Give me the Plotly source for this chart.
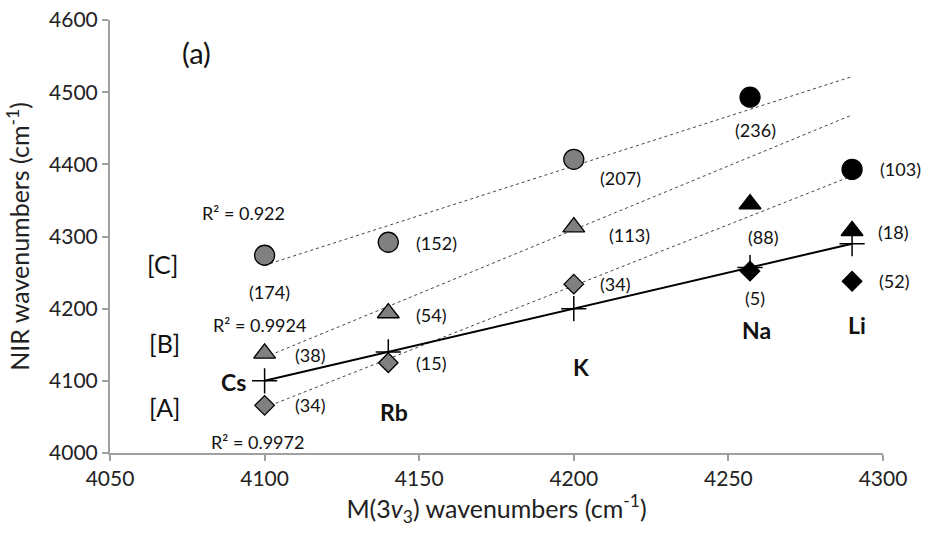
import numpy as np
import plotly.graph_objects as go

# ---------------- data ----------------
metals = ["Cs", "Rb", "K", "Na", "Li"]
m3v3 = [4100, 4140, 4200, 4257, 4290]            # x: M(3v3) wavenumbers
nir_A = [4066, 4125, 4234, 4252, 4238]           # [A] diamonds
nir_B = [4138, 4194, 4313, 4345, 4308]           # [B] triangles
nir_C = [4274, 4292, 4407, 4493, 4393]           # [C] circles
dev_A = [34, 15, 34, 5, 52]
dev_B = [38, 54, 113, 88, 18]
dev_C = [174, 152, 207, 236, 103]
r2_A = "R² = 0.9972"
r2_B = "R² = 0.9924"
r2_C = "R² = 0.922"
n_fit = 3  # trendlines fitted on Cs, Rb, K (gray points)

# ---------------- style ----------------
FONT = "Lato, Carlito, Calibri, sans-serif"
GRAY = "#808080"
pt_colors = [GRAY, GRAY, GRAY, "black", "black"]
AX = "#a0a0a0"

fig = go.Figure()

# trend lines
for ys in (nir_A, nir_B, nir_C):
    k, b = np.polyfit(m3v3[:n_fit], ys[:n_fit], 1)
    xs = np.array([m3v3[0], m3v3[-1]])
    fig.add_trace(go.Scatter(x=xs, y=k * xs + b, mode="lines",
                             line=dict(color="#444444", width=1, dash="dot"),
                             hoverinfo="skip", showlegend=False))

# y = x reference (crosses)
fig.add_trace(go.Scatter(x=m3v3, y=m3v3, mode="lines+markers",
                         line=dict(color="black", width=2),
                         marker=dict(symbol="cross-thin", size=18,
                                     line=dict(color="black", width=1.5)),
                         showlegend=False))

# series markers
fig.add_trace(go.Scatter(x=m3v3, y=nir_A, mode="markers", showlegend=False,
                         marker=dict(symbol="diamond", size=15, color=pt_colors,
                                     line=dict(color="black", width=1.3))))
fig.add_trace(go.Scatter(x=m3v3, y=nir_B, mode="markers", showlegend=False,
                         marker=dict(symbol="triangle-up", size=19, color=pt_colors,
                                     line=dict(color="black", width=1.3))))
fig.add_trace(go.Scatter(x=m3v3, y=nir_C, mode="markers", showlegend=False,
                         marker=dict(symbol="circle", size=20, color=pt_colors,
                                     line=dict(color="black", width=1.3))))

ann = []
LBL = dict(family=FONT, size=18, color="#111")
# value label offsets (px) for each point
off_A = [(46, 0), (43, 0), (42, 0), (5, -27), (42, 0)]
off_B = [(46, -2), (43, -2), (56, -8), (13, -33), (41, -1)]
off_C = [(5, -37), (48, -1), (47, -19), (5, -33), (48, 0)]
for ys, devs, offs in ((nir_A, dev_A, off_A), (nir_B, dev_B, off_B), (nir_C, dev_C, off_C)):
    for xv, yv, d, (dx, dy) in zip(m3v3, ys, devs, offs):
        ann.append(dict(x=xv, y=yv, xref="x", yref="y", text=f"({d})", showarrow=False,
                        xshift=dx, yshift=dy, font=LBL, xanchor="center", yanchor="middle"))

# metal names (bold), offsets from the y=x cross points
off_M = [(-31, -1), (6, -60), (7, -58), (6, -62), (5, -81)]
for xv, name, (dx, dy) in zip(m3v3, metals, off_M):
    ann.append(dict(x=xv, y=xv, xref="x", yref="y", text=f"<b>{name}</b>", showarrow=False,
                    xshift=dx, yshift=dy, font=dict(family=FONT, size=23, color="#111"),
                    xanchor="center", yanchor="middle"))

# free texts (paper coordinates)
def P(text, x, y, size):
    return dict(x=x, y=y, xref="paper", yref="paper", text=text, showarrow=False,
                font=dict(family=FONT, size=size, color="#111"),
                xanchor="center", yanchor="middle")

ann += [
    P("(a)", 0.1125, 0.924, 29),
    P("[C]", 0.068, 0.436, 25),
    P("[B]", 0.071, 0.254, 25),
    P("[A]", 0.071, 0.106, 25),
    P(r2_C, 0.173, 0.554, 18),
    P(r2_B, 0.193, 0.296, 18),
    P(r2_A, 0.191, 0.026, 18),
]

fig.update_layout(
    width=926, height=533,
    margin=dict(l=110, r=43, t=20, b=80),
    plot_bgcolor="white", paper_bgcolor="white",
    font=dict(family=FONT, color="#222"),
    annotations=ann,
    xaxis=dict(range=[4050, 4300], dtick=50, tick0=4050, showgrid=False, zeroline=False,
               automargin=False,
               showline=True, linecolor=AX, linewidth=2, ticks="outside", ticklen=6,
               tickcolor=AX, tickwidth=2, tickfont=dict(size=21, family=FONT, color="#222"),
               title=dict(text="M(3<i>v</i><sub>3</sub>) wavenumbers (cm<sup>-1</sup>)",
                          font=dict(size=25, family=FONT, color="#222"), standoff=10)),
    yaxis=dict(range=[4000, 4600], dtick=100, showgrid=False, zeroline=False,
               automargin=False,
               showline=True, linecolor=AX, linewidth=2, ticks="outside", ticklen=6,
               tickcolor=AX, tickwidth=2, tickfont=dict(size=21, family=FONT, color="#222"),
               title=dict(text="NIR wavenumbers (cm<sup>-1</sup>)",
                          font=dict(size=25, family=FONT, color="#222"), standoff=12)),
)

fig.write_html("out.html", config={"displayModeBar": False},
               post_script="document.body.style.margin='0';document.body.style.overflow='hidden';")
